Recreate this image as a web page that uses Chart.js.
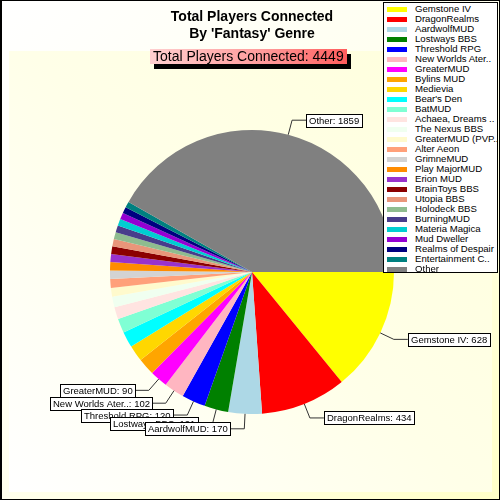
<!DOCTYPE html>
<html>
<head>
<meta charset="utf-8">
<script src="https://cdn.jsdelivr.net/npm/chart.js@4.4.1/dist/chart.umd.min.js"></script>
<style>
  html, body { margin: 0; padding: 0; }
  body { width: 500px; height: 500px; overflow: hidden; font-family: Arial, "Liberation Sans", sans-serif; }
  #frame {
    position: relative; box-sizing: border-box; width: 500px; height: 500px;
    border: 1px solid #000; border-left-width: 2px;
    background: linear-gradient(135deg, #ffffff 0%, #fffff0 45%, #ffffc8 100%);
  }
  #panel {
    position: absolute; left: 7px; top: 50px; width: 483px; height: 441px;
    background: linear-gradient(45deg, #ffffff 0%, #ffffe8 50%, #ffffdc 100%);
  }
  #chart { position: absolute; left: -2px; top: -1px; }
  #title {
    position: absolute; left: 0; top: 7px; width: 500px; text-align: center;
    font: bold 14px Arial, "Liberation Sans", sans-serif; line-height: 17px; color: #000;
  }
  #total {
    position: absolute; left: 148px; top: 48px; height: 15px; padding: 0 3px;
    font: 14px Arial, "Liberation Sans", sans-serif; line-height: 15px; color: #000;
    background: linear-gradient(90deg, #ffd0d0 0%, #ff9898 60%, #ff5c5c 100%);
    box-shadow: 4px 5px 0 #000; white-space: nowrap;
  }
  #legend {
    position: absolute; left: 381px; top: 1px; width: 113px; height: 268px;
    background: #fff; border: 1px solid #000; padding-top: 1px;
  }
  .row { height: 10px; position: relative; white-space: nowrap; overflow: hidden; }
  .row i { position: absolute; left: 3px; top: 3px; width: 20px; height: 5px; }
  .row span { position: absolute; left: 31px; top: -1px; font: 9.6px Arial, "Liberation Sans", sans-serif; line-height: 12px; color: #000; }
</style>
</head>
<body>
<div id="frame">
  <div id="panel"></div>
  <canvas id="chart" width="500" height="500"></canvas>
  <div id="title"></div>
  <div id="total"></div>
  <div id="legend"></div>
</div>
<script>
const categories = [
  "Gemstone IV", "DragonRealms", "AardwolfMUD", "Lostways BBS", "Threshold RPG",
  "New Worlds Ater..", "GreaterMUD", "Bylins MUD", "Medievia", "Bear's Den",
  "BatMUD", "Achaea, Dreams ..", "The Nexus BBS", "GreaterMUD (PVP..", "Alter Aeon",
  "GrimneMUD", "Play MajorMUD", "Erion MUD", "BrainToys BBS", "Utopia BBS",
  "Holodeck BBS", "BurningMUD", "Materia Magica", "Mud Dweller", "Realms of Despair",
  "Entertainment C..", "Other"
];
const players = [
  628, 434, 170, 121, 120,
  102, 90, 86, 82, 80,
  72, 62, 54, 44, 44,
  43, 42, 40, 39, 37,
  36, 35, 34, 33, 32,
  30, 1859
];
const sliceColors = [
  "#ffff00", "#ff0000", "#add8e6", "#008000", "#0000ff",
  "#ffb6c1", "#ff00ff", "#ffa500", "#ffd700", "#00ffff",
  "#7fffd4", "#ffe4e1", "#f0fff0", "#fffacd", "#ffa07a",
  "#d3d3d3", "#ff8c00", "#9932cc", "#8b0000", "#e9967a",
  "#8fbc8f", "#483d8b", "#00ced1", "#9400d3", "#000080",
  "#008080", "#808080"
];
const titleLines = ["Total Players Connected", "By 'Fantasy' Genre"];
const totalLabel = "Total Players Connected";
const labelMinValue = 90;

(() => {
  function el(id) {
    return document.getElementById(id);
  }

  function renderHeader() {
    el("title").innerHTML = titleLines.join("<br>");
    const total = players.reduce((a, b) => a + b, 0);
    el("total").textContent = `${totalLabel}: ${total}`;
  }

  function renderLegend() {
    el("legend").innerHTML = categories
      .map((c, i) => `<div class="row"><i style="background:${sliceColors[i]}"></i><span>${c}</span></div>`)
      .join("");
  }

  // leader lines + boxed labels, placed from the arc elements
  const sliceLabels = {
    id: "sliceLabels",
    afterDatasetsDraw(chart) {
      const ctx = chart.ctx;
      const arcs = chart.getDatasetMeta(0).data;
      ctx.save();
      ctx.font = "9.5px Arial, 'Liberation Sans', sans-serif";
      ctx.textBaseline = "middle";
      ctx.lineWidth = 1;
      for (let i = arcs.length - 1; i >= 0; i--) {
        if (players[i] < labelMinValue) continue;
        const a = arcs[i].getProps(["x", "y", "startAngle", "endAngle", "outerRadius"], true);
        const mid = (a.startAngle + a.endAngle) / 2;
        const cos = Math.cos(mid), sin = Math.sin(mid);
        const rx = a.x + a.outerRadius * cos, ry = a.y + a.outerRadius * sin;
        const ex = a.x + (a.outerRadius + 15) * cos, ey = a.y + (a.outerRadius + 15) * sin;
        const dir = cos >= 0 ? 1 : -1;
        const hx = ex + dir * 14;
        const text = `${categories[i]}: ${players[i]}`;
        const w = Math.ceil(ctx.measureText(text).width) + 5;
        const h = 13;
        const bx = dir > 0 ? hx : hx - w;
        const by = Math.round(ey - h / 2);

        ctx.strokeStyle = "#333";
        ctx.beginPath();
        ctx.moveTo(rx, ry);
        ctx.lineTo(ex, ey);
        ctx.lineTo(hx, ey);
        ctx.stroke();

        ctx.fillStyle = "#fff";
        ctx.fillRect(Math.round(bx) + 0.5, by + 0.5, w, h);
        ctx.strokeStyle = "#000";
        ctx.strokeRect(Math.round(bx) + 0.5, by + 0.5, w, h);
        ctx.fillStyle = "#000";
        ctx.fillText(text, Math.round(bx) + 3, by + h / 2 + 1);
      }
      ctx.restore();
    },
  };

  function setupChart() {
    new Chart(el("chart"), {
      type: "pie",
      data: {
        labels: categories,
        datasets: [
          {
            data: players,
            backgroundColor: sliceColors,
            borderWidth: 0,
          },
        ],
      },
      options: {
        responsive: false,
        animation: false,
        devicePixelRatio: 1,
        rotation: 90,
        layout: { padding: { left: 110, right: 106, top: 130, bottom: 86 } },
        plugins: {
          legend: { display: false },
          tooltip: { enabled: false },
          title: { display: false },
        },
      },
      plugins: [sliceLabels],
    });
  }

  renderHeader();
  renderLegend();
  setupChart();
})();
</script>
</body>
</html>
